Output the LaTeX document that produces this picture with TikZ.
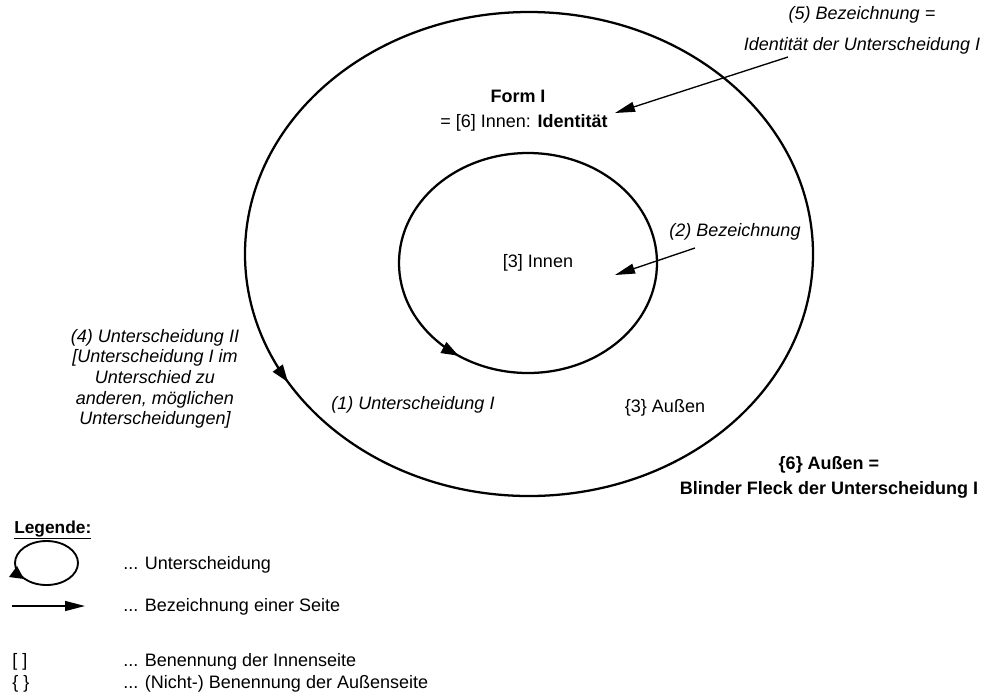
\documentclass[tikz,border=0pt]{standalone}
\usepackage{fontspec}
\setmainfont{Liberation Sans}
\usetikzlibrary{arrows.meta,decorations.markings}
\begin{document}
\begin{tikzpicture}[x=0.75pt,y=-0.75pt,
  txt/.style={font=\fontsize{13.5}{16}\selectfont, inner sep=0pt},
  ring/.style={line width=1.7pt},
  pointer/.style={line width=1pt,-{Triangle[length=15pt,width=7.5pt]}},
  ringtip/.style={decoration={markings, mark=at position #1 with {\arrow{Triangle[length=13pt,width=9pt]}}}, postaction={decorate}},
]
\useasboundingbox (0,0) rectangle (988,697);
% rings
\draw[ring, ringtip=0.583] (813,254) arc[start angle=0,end angle=-360,x radius=284,y radius=242];
\draw[ring, ringtip=0.654] (657,263) arc[start angle=0,end angle=-360,x radius=129,y radius=110];
% texts
\node[txt, align=center, font=\fontsize{13.5}{23}\selectfont\itshape] (t5) at (862,30.5) {(5) Bezeichnung =\\Identität der Unterscheidung I};
\node[txt, font=\fontsize{13.5}{16}\selectfont\bfseries] (form) at (518,96) {Form I};
\node[txt] (formid) at (524,123) {= [6] Innen: \textbf{Identität}};
\node[txt, font=\fontsize{13.5}{16}\selectfont\itshape] (b2) at (735,232) {(2) Bezeichnung};
\node[txt] (innen) at (538,263) {[3] Innen};
\node[txt, font=\fontsize{13.5}{16}\selectfont\itshape] (u1) at (413,405) {(1) Unterscheidung I};
\node[txt] (aussen3) at (665,408) {\{3\} Außen};
\node[txt, align=center, font=\fontsize{13.5}{15.5}\selectfont\itshape] (u4) at (155,379) {(4) Unterscheidung II\\{}[Unterscheidung I im\\Unterschied zu\\anderen, möglichen\\Unterscheidungen]};
\node[txt, align=center, font=\fontsize{13.5}{18.75}\selectfont\bfseries] (a6) at (829,477.5) {\{6\} Außen =\\Blinder Fleck der Unterscheidung I};
% arrows
\coordinate (p5s) at (788,57);
\coordinate (p5e) at (615,113);
\draw[pointer] (p5s) -- (p5e);
\coordinate (p2s) at (695,248);
\coordinate (p2e) at (615,275);
\draw[pointer] (p2s) -- (p2e);
% legend
\node[txt, anchor=west, font=\fontsize{13}{16}\selectfont\bfseries] (leg) at (14,530) {\underline{Legende:}};
\coordinate (lc) at (46.5,563);
\draw[line width=1.4pt] (lc) ellipse[x radius=31.5, y radius=22];
\fill ([shift={(-37.5,14)}]lc) -- ([shift={(-29.5,3)}]lc) -- ([shift={(-22.5,16)}]lc) -- cycle;
\node[txt, anchor=west] (l1) at (123,565) {... Unterscheidung};
\coordinate (la) at (12,606);
\coordinate (lb) at (85,606);
\draw[pointer] (la) -- (lb);
\node[txt, anchor=west] (l2) at (123,607) {... Bezeichnung einer Seite};
\node[txt, anchor=west] (k1) at (12,662) {[ ]};
\node[txt, anchor=west] (l3) at (123,662) {... Benennung der Innenseite};
\node[txt, anchor=west] (k2) at (12,684) {\{ \}};
\node[txt, anchor=west] (l4) at (123,684) {... (Nicht-) Benennung der Außenseite};
\end{tikzpicture}
\end{document}
